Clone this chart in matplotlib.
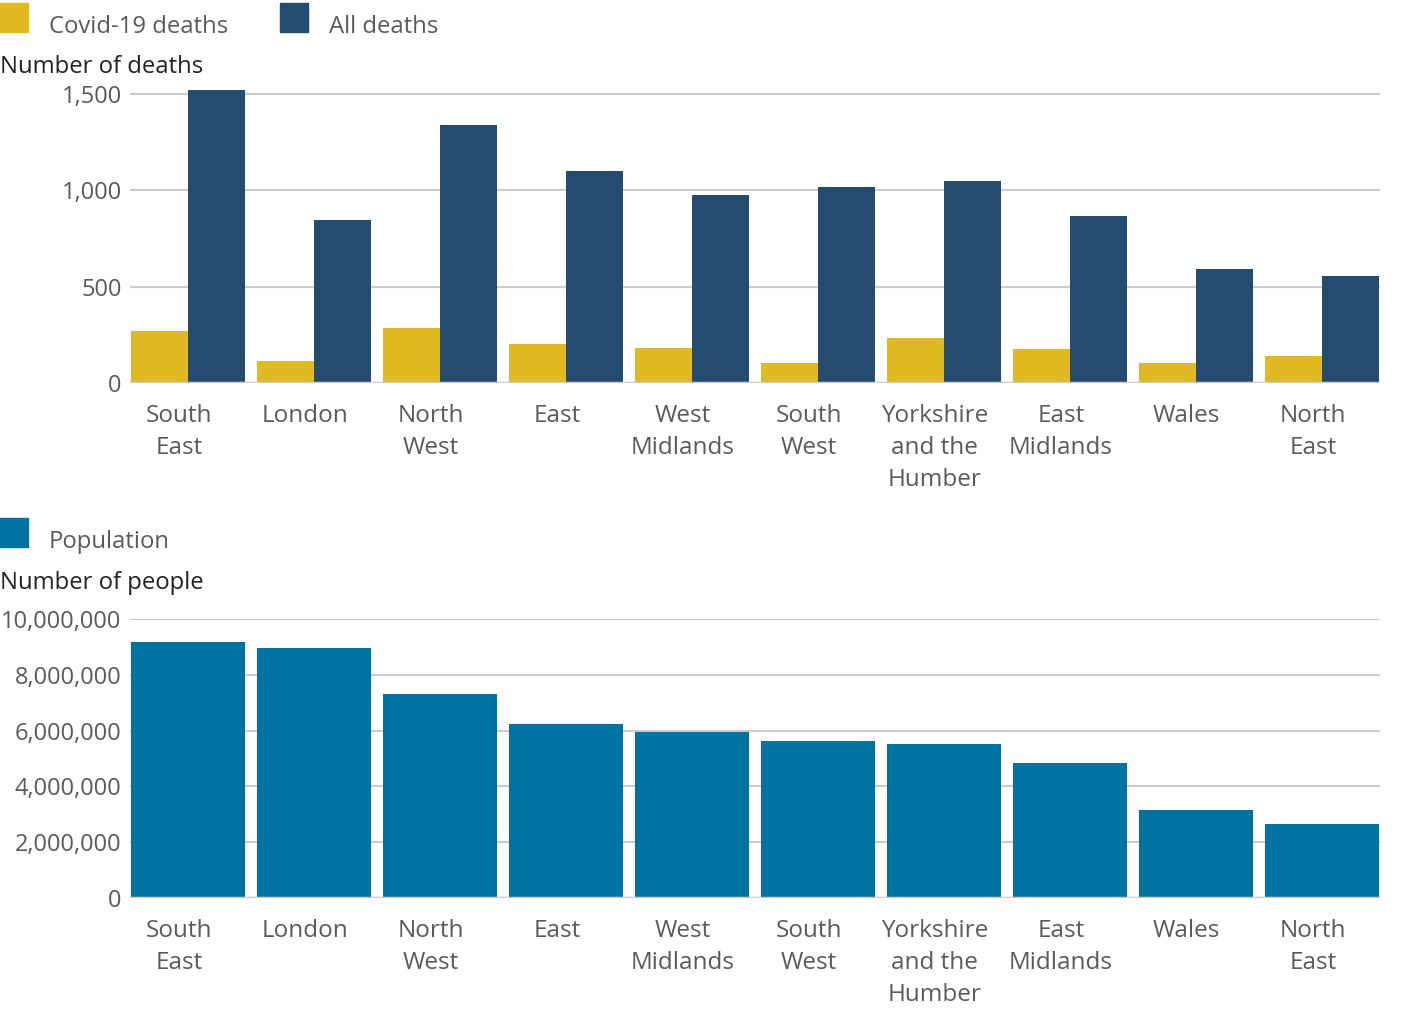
import numpy as np
import matplotlib.pyplot as plt
import matplotlib.transforms as mtransforms
from matplotlib.patches import Rectangle
from matplotlib.ticker import FuncFormatter

plt.rcParams['font.family'] = ['Open Sans', 'DejaVu Sans']

# --- data ---
regions = ['South\nEast', 'London', 'North\nWest', 'East', 'West\nMidlands',
           'South\nWest', 'Yorkshire\nand the\nHumber', 'East\nMidlands', 'Wales',
           'North\nEast']
covid_deaths = [270, 114, 285, 202, 182, 104, 234, 176, 104, 140]
all_deaths = [1521, 846, 1339, 1100, 976, 1017, 1048, 867, 592, 555]
population = [9180000, 8960000, 7310000, 6240000, 5950000, 5630000, 5520000,
              4840000, 3150000, 2650000]

covid_color = '#e0ba22'
all_color = '#234c6e'
pop_color = '#0073a3'
grid_color = '#cccccc'
tick_color = '#5a5a5a'
title_color = '#222222'

W, H = 1413, 1024
fig = plt.figure(figsize=(W / 100, H / 100), dpi=100)
fig.set_facecolor('white')

def fx(px):
    return px / W

def fy(px):
    return 1 - px / H

x = np.arange(len(regions))
slot = 126.0
bar_w = 114 / slot
half = bar_w / 2
left_px, right_px = 130, 1380

# --- top: deaths ---
top_ylim = 1540
top_h = 289 / 1500 * top_ylim
ax1 = fig.add_axes([fx(left_px), fy(383), fx(right_px - left_px), top_h / H])
ax1.bar(x - half / 2, covid_deaths, width=half, color=covid_color, zorder=3)
ax1.bar(x + half / 2, all_deaths, width=half, color=all_color, zorder=3)
ax1.set_ylim(0, top_ylim)
ax1.set_yticks([0, 500, 1000, 1500])

# --- bottom: population ---
ax2 = fig.add_axes([fx(left_px), fy(898), fx(right_px - left_px), 279 / H])
ax2.bar(x, population, width=bar_w, color=pop_color, zorder=3)
ax2.set_ylim(0, 10000000)
ax2.set_yticks(np.arange(0, 10000001, 2000000))

shift = mtransforms.ScaledTranslation(-9 / 100, 0, fig.dpi_scale_trans)
for ax in (ax1, ax2):
    ax.set_xlim(-0.5 + (1 - bar_w) / 2 - 0.01, len(regions) - 0.5 - (1 - bar_w) / 2 + 0.01)
    for s in ax.spines.values():
        s.set_visible(False)
    ax.grid(axis='y', color=grid_color, linewidth=1.5, zorder=0)
    ax.axhline(0, color=grid_color, linewidth=2.5, zorder=4)
    ax.set_xticks(x)
    ax.set_xticklabels(regions, fontsize=17.5, color=tick_color, linespacing=1.46)
    ax.tick_params(axis='x', length=0, pad=15)
    ax.tick_params(axis='y', length=0, pad=6, labelsize=17, labelcolor=tick_color)
    ax.yaxis.set_major_formatter(FuncFormatter(lambda v, p: f'{int(v):,}'))
    for lbl in ax.get_xticklabels():
        lbl.set_verticalalignment('top')
        lbl.set_transform(lbl.get_transform() + shift)

# --- legends and axis titles ---
def legend_box(x0, y0, color):
    fig.add_artist(Rectangle((fx(x0), fy(y0 + 29)), 28 / W, 29 / H,
                             transform=fig.transFigure, color=color))

legend_box(0, 3, covid_color)
fig.text(fx(49), fy(27), 'Covid-19 deaths', fontsize=17.2, color=tick_color, va='center')
legend_box(280, 3, all_color)
fig.text(fx(329), fy(27), 'All deaths', fontsize=17.2, color=tick_color, va='center')
fig.text(fx(0), fy(67), 'Number of deaths', fontsize=17.2, color=title_color, va='center')

legend_box(0, 518, pop_color)
fig.text(fx(49), fy(542), 'Population', fontsize=17.2, color=tick_color, va='center')
fig.text(fx(0), fy(583), 'Number of people', fontsize=17.2, color=title_color, va='center')

fig.savefig('out.png', dpi=100, facecolor='white')
